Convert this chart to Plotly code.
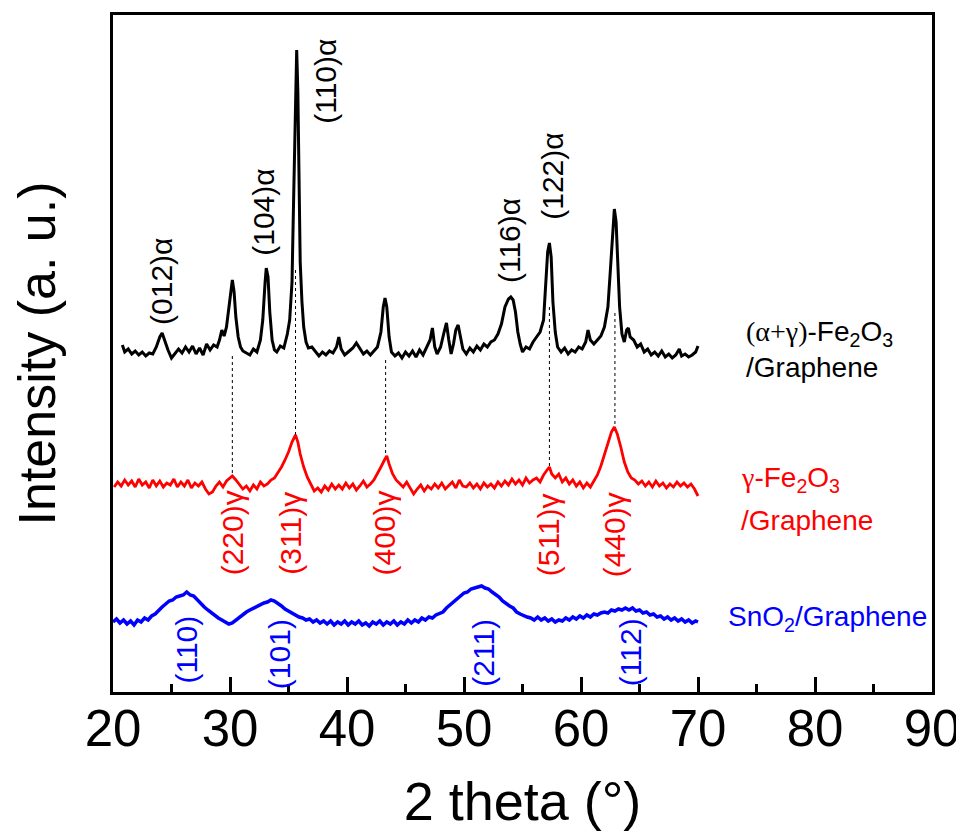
import plotly.graph_objects as go

# ---------------- data (stacked intensities, a.u.) ----------------
x_black = [20.8, 21.0, 21.3, 21.6, 21.9, 22.2, 22.5, 22.8, 23.1, 23.4, 23.7, 24.0, 24.2, 24.4, 24.7,
           25.0, 25.3, 25.6, 25.9, 26.2, 26.5, 26.8, 27.1, 27.4, 27.7, 28.0, 28.3, 28.6, 28.9, 29.1,
           29.3, 29.5, 29.7, 29.9, 30.1, 30.2, 30.35, 30.5, 30.7, 30.9, 31.1, 31.4, 31.7, 32.0, 32.3,
           32.6, 32.8, 33.0, 33.1, 33.25, 33.4, 33.6, 33.8, 34.0, 34.3, 34.6, 34.9, 35.1, 35.3, 35.45,
           35.6, 35.7, 35.8, 35.9, 36.0, 36.15, 36.3, 36.5, 36.7, 37.0, 37.3, 37.6, 37.9, 38.2, 38.5,
           38.8, 39.1, 39.3, 39.5, 39.8, 40.1, 40.5, 40.8, 41.1, 41.4, 41.7, 42.0, 42.3, 42.6, 42.9,
           43.1, 43.25, 43.4, 43.6, 43.8, 44.1, 44.4, 44.7, 45.0, 45.3, 45.6, 45.9, 46.2, 46.5, 46.8,
           47.1, 47.3, 47.5, 47.7, 48.0, 48.3, 48.5, 48.7, 48.9, 49.1, 49.3, 49.5, 49.7, 49.9, 50.2,
           50.5, 50.8, 51.1, 51.4, 51.7, 52.0, 52.3, 52.6, 52.9, 53.2, 53.5, 53.8, 54.0, 54.2, 54.4,
           54.6, 54.8, 55.0, 55.3, 55.6, 55.9, 56.2, 56.5, 56.8, 57.0, 57.15, 57.3, 57.45, 57.6, 57.8,
           58.0, 58.3, 58.6, 58.9, 59.2, 59.5, 59.8, 60.1, 60.4, 60.6, 60.8, 61.1, 61.4, 61.7, 62.0,
           62.3, 62.5, 62.7, 62.85, 63.0, 63.15, 63.3, 63.5, 63.7, 63.9, 64.05, 64.2, 64.5, 64.8, 65.1,
           65.4, 65.7, 66.0, 66.3, 66.6, 66.9, 67.2, 67.5, 67.8, 68.1, 68.4, 68.6, 68.9, 69.2, 69.5,
           69.8, 70.0]
y_black = [347, 340, 343, 338, 341, 337, 340, 336, 339, 338, 345, 355, 359, 352, 342,
           334, 338, 343, 339, 345, 340, 346, 338, 344, 337, 348, 342, 347, 345, 352,
           362, 356, 365, 385, 405, 412, 400, 375, 355, 345, 341, 339, 337, 343, 340,
           352, 372, 410, 424, 415, 380, 352, 342, 340, 346, 344, 358, 372, 410, 500,
           600, 642, 600, 520, 430, 390, 365, 350, 344, 345, 340, 336, 340, 337, 341,
           339, 345, 355, 343, 337, 340, 344, 349, 343, 338, 341, 337, 341, 345, 360,
           385, 394, 385, 355, 340, 336, 339, 334, 340, 336, 341, 335, 342, 337, 345,
           352, 364, 345, 338, 345, 360, 369, 352, 338, 348, 362, 367, 355, 343, 338,
           344, 340, 346, 342, 348, 345, 350, 352, 358, 368, 385, 393, 395, 392, 380,
           360, 348, 340, 345, 343, 350, 355, 360, 372, 410, 440, 449, 435, 390, 360,
           345, 340, 344, 338, 342, 340, 345, 343, 350, 362, 352, 348, 352, 356, 365,
           385, 420, 460, 483, 470, 430, 385, 358, 350, 362, 364, 355, 352, 345, 348,
           340, 343, 337, 340, 336, 341, 335, 338, 334, 337, 343, 336, 338, 335, 337,
           340, 346]

x_red = [20.1, 20.4, 20.7, 21.0, 21.3, 21.6, 21.9, 22.2, 22.5, 22.8, 23.1, 23.4, 23.7, 24.0, 24.3,
         24.6, 24.9, 25.2, 25.5, 25.8, 26.1, 26.4, 26.7, 27.0, 27.3, 27.6, 27.9, 28.2, 28.5, 28.8,
         29.1, 29.4, 29.7, 30.0, 30.2, 30.5, 30.8, 31.1, 31.4, 31.7, 32.0, 32.3, 32.6, 32.9, 33.2,
         33.5, 33.8, 34.1, 34.4, 34.7, 35.0, 35.3, 35.6, 35.8, 36.0, 36.3, 36.6, 36.9, 37.2, 37.5,
         37.8, 38.1, 38.4, 38.7, 39.0, 39.3, 39.6, 39.9, 40.2, 40.5, 40.8, 41.1, 41.4, 41.7, 42.0,
         42.3, 42.6, 42.9, 43.2, 43.4, 43.6, 43.9, 44.2, 44.5, 44.8, 45.1, 45.4, 45.7, 46.0, 46.3,
         46.6, 46.9, 47.2, 47.5, 47.8, 48.1, 48.4, 48.7, 49.0, 49.3, 49.6, 49.9, 50.2, 50.5, 50.8,
         51.1, 51.4, 51.7, 52.0, 52.3, 52.6, 52.9, 53.2, 53.5, 53.8, 54.1, 54.4, 54.7, 55.0, 55.3,
         55.6, 55.9, 56.2, 56.5, 56.8, 57.1, 57.3, 57.5, 57.8, 58.1, 58.4, 58.7, 59.0, 59.3, 59.6,
         59.9, 60.2, 60.5, 60.8, 61.1, 61.4, 61.7, 62.0, 62.3, 62.6, 62.85, 63.1, 63.4, 63.7, 64.0,
         64.3, 64.6, 64.9, 65.2, 65.5, 65.8, 66.1, 66.4, 66.7, 67.0, 67.3, 67.6, 67.9, 68.2, 68.5,
         68.8, 69.1, 69.4, 69.7, 70.0]
y_red = [205, 210, 206, 212, 207, 211, 205, 213, 207, 210, 204, 212, 206, 211, 205,
         209, 207, 213, 205, 210, 206, 212, 204, 209, 206, 210, 203, 198, 200, 206,
         210, 205, 211, 214, 216, 212, 208, 203, 206, 201, 207, 203, 210, 206, 208,
         212, 214, 219, 225, 232, 240, 250, 257, 250, 238, 225, 215, 208, 201, 204,
         200, 206, 202, 208, 203, 207, 203, 209, 204, 208, 202, 206, 211, 205, 208,
         212, 218, 225, 232, 236, 228, 218, 212, 208, 205, 210, 204, 198, 203, 207,
         201, 206, 203, 208, 204, 209, 203, 207, 210, 204, 212, 206, 205, 209, 204,
         208, 203, 209, 205, 208, 204, 210, 206, 211, 207, 213, 208, 212, 207, 214,
         209, 212, 214, 210, 217, 222, 225, 218, 214, 218, 210, 214, 208, 212, 206,
         210, 204, 209, 205, 211, 217, 226, 238, 250, 260, 265, 258, 245, 230, 220,
         214, 212, 208, 211, 206, 210, 205, 211, 206, 209, 204, 208, 205, 210, 206,
         209, 205, 208, 203, 196]

x_blue = [20.0, 20.3, 20.6, 20.9, 21.2, 21.5, 21.8, 22.1, 22.4, 22.7, 23.0, 23.3, 23.6, 23.9, 24.2,
          24.5, 24.8, 25.1, 25.4, 25.7, 26.0, 26.3, 26.6, 26.9, 27.2, 27.5, 27.8, 28.1, 28.4, 28.7,
          29.0, 29.3, 29.6, 29.9, 30.2, 30.5, 30.8, 31.1, 31.4, 31.7, 32.0, 32.3, 32.6, 32.9, 33.2,
          33.5, 33.8, 34.1, 34.4, 34.7, 35.0, 35.3, 35.6, 35.9, 36.2, 36.5, 36.8, 37.1, 37.4, 37.7,
          38.0, 38.3, 38.6, 38.9, 39.2, 39.5, 39.8, 40.1, 40.4, 40.7, 41.0, 41.3, 41.6, 41.9, 42.2,
          42.5, 42.8, 43.1, 43.4, 43.7, 44.0, 44.3, 44.6, 44.9, 45.2, 45.5, 45.8, 46.1, 46.4, 46.7,
          47.0, 47.3, 47.6, 47.9, 48.2, 48.5, 48.8, 49.1, 49.4, 49.7, 50.0, 50.3, 50.6, 50.9, 51.2,
          51.5, 51.8, 52.1, 52.4, 52.7, 53.0, 53.3, 53.6, 53.9, 54.2, 54.5, 54.8, 55.1, 55.4, 55.7,
          56.0, 56.3, 56.6, 56.9, 57.2, 57.5, 57.8, 58.1, 58.4, 58.7, 59.0, 59.3, 59.6, 59.9, 60.2,
          60.5, 60.8, 61.1, 61.4, 61.7, 62.0, 62.3, 62.6, 62.9, 63.2, 63.5, 63.8, 64.1, 64.4, 64.7,
          65.0, 65.3, 65.6, 65.9, 66.2, 66.5, 66.8, 67.1, 67.4, 67.7, 68.0, 68.3, 68.6, 68.9, 69.2,
          69.5, 69.8, 70.0]
y_blue = [70, 73, 69, 72, 68, 71, 67, 72, 70, 74, 72, 76, 78, 82, 85,
          88, 91, 92, 95, 96, 97, 100, 97, 96, 92, 89, 85, 82, 79, 76,
          74, 72, 70, 68, 69, 72, 74, 77, 80, 82, 84, 86, 88, 89, 90,
          92, 91, 89, 86, 83, 81, 79, 76, 75, 74, 72, 73, 70, 72, 69,
          71, 68, 71, 67, 70, 68, 71, 67, 70, 68, 71, 67, 69, 66, 70,
          68, 71, 67, 70, 68, 71, 67, 70, 68, 72, 69, 72, 70, 74, 72,
          75, 74, 77, 79, 80, 84, 87, 90, 94, 96, 99, 100, 103, 104, 105,
          106, 104, 103, 100, 98, 95, 91, 88, 86, 84, 80, 78, 76, 75, 74,
          72, 75, 72, 74, 71, 73, 70, 72, 71, 74, 72, 75, 73, 76, 74,
          77, 75, 78, 77, 79, 80, 79, 82, 81, 83, 82, 84, 82, 84, 81,
          82, 79, 80, 77, 78, 75, 76, 73, 75, 72, 74, 71, 73, 70, 72,
          69, 71, 70]

# dashed guide lines linking alpha+gamma peaks to gamma peaks
guide_x = [30.2, 35.6, 43.3, 57.3, 62.9]
guide_top = [336, 422, 332, 385, 379]
guide_bottom = [216, 257, 236, 225, 265]

# peak labels
alpha_labels = ["(012)α", "(104)α", "(110)α", "(116)α", "(122)α"]
alpha_x = [24.1, 32.8, 38.1, 53.85, 57.5]
alpha_y = [411, 480, 611, 451, 516]
gamma_labels = ["(220)γ", "(311)γ", "(400)γ", "(511)γ", "(440)γ"]
gamma_x = [30.2, 35.1, 43.2, 57.2, 62.85]
gamma_y = [159, 159, 159, 157, 157]
sno2_labels = ["(110)", "(101)", "(211)", "(112)"]
sno2_x = [26.2, 34.2, 51.6, 64.2]
sno2_y = [42, 38, 39, 40]

tick_vals = [20, 30, 40, 50, 60, 70, 80, 90]
tick_text = ["20", "30", "40", "50", "60", "70", "80", "90"]

FONT = "Liberation Sans, Arial, sans-serif"
SERIF = "Liberation Serif, Times New Roman, serif"

fig = go.Figure()

# dashed guides (drawn first so curves sit on top)
gx, gy = [], []
for xv, top, bot in zip(guide_x, guide_top, guide_bottom):
    gx += [xv, xv, None]
    gy += [top, bot, None]
fig.add_trace(go.Scatter(x=gx, y=gy, mode="lines",
                         line=dict(color="black", width=1, dash="3px,3px"),
                         showlegend=False, hoverinfo="skip"))

fig.add_trace(go.Scatter(x=x_blue, y=y_blue, mode="lines",
                         line=dict(color="#0000ff", width=3.5), showlegend=False))
fig.add_trace(go.Scatter(x=x_red, y=y_red, mode="lines",
                         line=dict(color="#ff0000", width=2.8), showlegend=False))
fig.add_trace(go.Scatter(x=x_black, y=y_black, mode="lines",
                         line=dict(color="black", width=3), showlegend=False))

LBL = 30
ann = []
for t, xv, yv in zip(alpha_labels, alpha_x, alpha_y):
    ann.append(dict(x=xv, y=yv, text=t, textangle=-90, showarrow=False,
                    font=dict(family=FONT, size=LBL, color="black")))
for t, xv, yv in zip(gamma_labels, gamma_x, gamma_y):
    ann.append(dict(x=xv, y=yv, text=t, textangle=-90, showarrow=False,
                    font=dict(family=FONT, size=LBL, color="#ff0000")))
for t, xv, yv in zip(sno2_labels, sno2_x, sno2_y):
    ann.append(dict(x=xv, y=yv, text=t, textangle=-90, showarrow=False,
                    font=dict(family=FONT, size=LBL, color="#0000ff")))

# sample names
ann += [
    dict(x=73.9, y=359, xanchor="left", showarrow=False,
         text="<span style='font-family:" + SERIF + "'>(α+γ)</span>-Fe<sub>2</sub>O<sub>3</sub>",
         font=dict(family=FONT, size=28, color="black")),
    dict(x=73.9, y=325, xanchor="left", showarrow=False, text="/Graphene",
         font=dict(family=FONT, size=28, color="black")),
    dict(x=73.5, y=213, xanchor="left", showarrow=False,
         text="<span style='font-family:" + SERIF + "'>γ</span>-Fe<sub>2</sub>O<sub>3</sub>",
         font=dict(family=FONT, size=28, color="#ff0000")),
    dict(x=73.5, y=172, xanchor="left", showarrow=False, text="/Graphene",
         font=dict(family=FONT, size=28, color="#ff0000")),
    dict(x=72.4, y=74, xanchor="left", showarrow=False, text="SnO<sub>2</sub>/Graphene",
         font=dict(family=FONT, size=28, color="#0000ff")),
]

# page body adds an 8 px offset; figure sized so the page does not overflow the window
fig.update_layout(
    width=956, height=823,
    margin=dict(l=105, r=32, t=7, b=139),
    plot_bgcolor="white", paper_bgcolor="white",
    font=dict(family=FONT, color="black"),
    annotations=ann,
    showlegend=False,
)
fig.update_xaxes(
    range=[20, 90], tickvals=tick_vals, ticktext=tick_text,
    ticks="inside", ticklen=15, tickwidth=2.5, tickcolor="black",
    minor=dict(dtick=5, tick0=20, ticks="inside", ticklen=8, tickwidth=2.5, tickcolor="black"),
    showline=True, linecolor="black", linewidth=3, mirror=True,
    showgrid=False, zeroline=False, automargin=False,
    tickfont=dict(family=FONT, size=51, color="black"), ticklabelstandoff=-10,
    title=dict(text="2 theta (°)", font=dict(family=FONT, size=54, color="black"), standoff=28),
)
fig.update_yaxes(
    range=[0, 677], showticklabels=False, ticks="",
    showline=True, linecolor="black", linewidth=3, mirror=True,
    showgrid=False, zeroline=False, automargin=False,
    title=dict(text="Intensity (a. u.)", font=dict(family=FONT, size=52, color="black"), standoff=40),
)

fig.write_html("out.html")
